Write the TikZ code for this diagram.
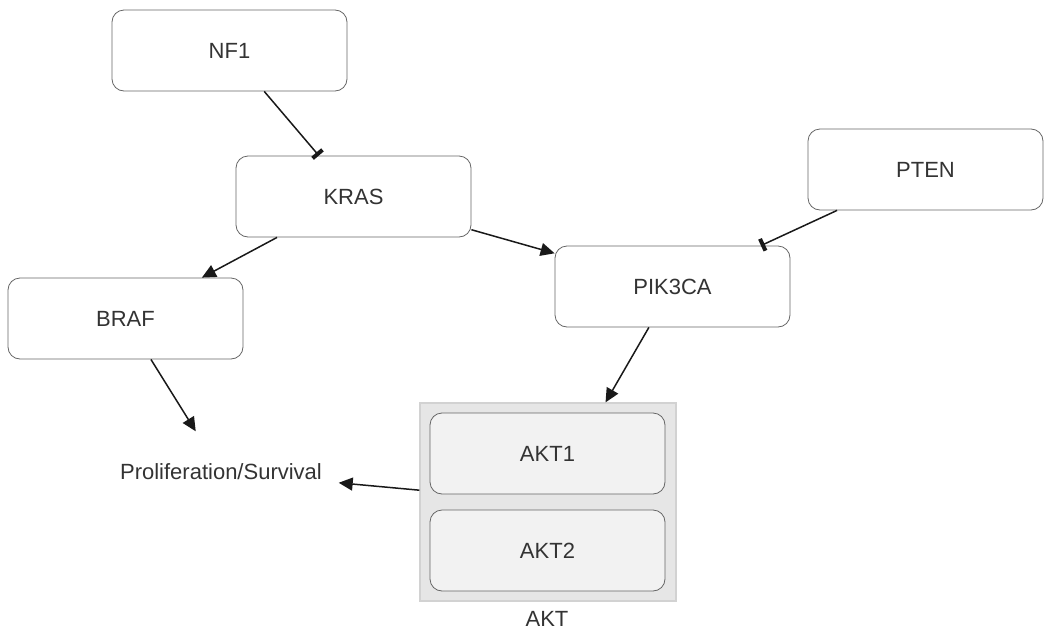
\documentclass[tikz,border=0pt]{standalone}
\usepackage{fontspec}
\setmainfont{Liberation Sans}
\usetikzlibrary{arrows.meta}
\definecolor{txt}{HTML}{333333}
\definecolor{bord}{HTML}{666666}
\definecolor{grpfill}{HTML}{E6E6E6}
\definecolor{grpbord}{HTML}{D2D2D2}
\definecolor{subfill}{HTML}{F2F2F2}
\begin{document}
\begin{tikzpicture}[x=1pt,y=-1pt,
  gene/.style={draw=bord, line width=0.8pt, rounded corners=12pt, fill=white,
    minimum width=235pt, minimum height=81pt, inner sep=0pt, text=txt,
    font=\fontsize{22}{26}\selectfont},
  subgene/.style={gene, fill=subfill},
  ghost/.style={minimum width=235pt, minimum height=81pt, inner sep=0pt, text=txt,
    font=\fontsize{22}{26}\selectfont},
  grp/.style={draw=grpbord, line width=1.2pt, fill=grpfill,
    minimum width=256pt, minimum height=198pt, inner sep=0pt},
  act/.style={line width=1.5pt, draw=black!90, -{Triangle[length=14pt,width=13pt]}},
  inh/.style={line width=1.5pt, draw=black!90, -{Bar[width=13pt,line width=4pt]}}
]
\useasboundingbox (0,0) rectangle (1053,635);
\node[gene] (nf1) at (229.5,50.5) {NF1};
\node[gene] (kras) at (353.5,196.5) {KRAS};
\node[gene] (pten) at (925.5,169.5) {PTEN};
\node[gene] (pik) at (672.5,286.5) {PIK3CA};
\node[gene] (braf) at (125.5,318.5) {BRAF};
\node[ghost] (prolif) at (221,472) {Proliferation/Survival};
\node[grp] (akt) at (548,502) {};
\node[subgene] (akt1) at (547.5,453.5) {AKT1};
\node[subgene] (akt2) at (547.5,550.5) {AKT2};
\node[text=txt, font=\fontsize{22}{26}\selectfont] (aktlab) at (547,619) {AKT};
\draw[inh] (nf1) -- (kras);
\draw[act] (kras) -- (braf);
\draw[act] (kras) -- (pik);
\draw[inh] (pten) -- (pik);
\draw[act] (braf) -- (prolif);
\draw[act] (pik) -- (akt);
\draw[act] (akt) -- (prolif);
\end{tikzpicture}
\end{document}
